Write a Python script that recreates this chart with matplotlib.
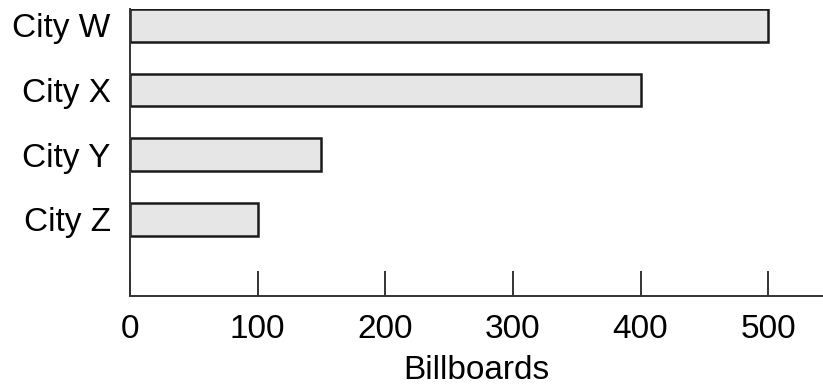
import matplotlib
matplotlib.use("Agg")
import matplotlib.pyplot as plt

cities = ["City W", "City X", "City Y", "City Z"]
billboards = [500, 400, 150, 100]
xticks = [0, 100, 200, 300, 400, 500]

plt.rcParams["font.family"] = ["Liberation Sans", "DejaVu Sans"]

fig = plt.figure(figsize=(8.23, 3.91), dpi=100)
ax = fig.add_axes([0.158, 0.243, 0.842, 0.734])

pos = list(range(len(cities)))
ax.barh(pos, billboards, height=0.51, color="#e6e6e6",
        edgecolor="#1a1a1a", linewidth=1.8)

ax.set_ylim(3 + 1.19, -0.254)
ax.set_xlim(0, 543)
ax.set_yticks(pos)
ax.set_yticklabels(cities, fontsize=24)
ax.set_xticks(xticks)
ax.set_xticklabels([str(t) for t in xticks], fontsize=24)
ax.tick_params(axis="y", length=0, pad=14)
ax.tick_params(axis="x", direction="in", length=18, width=1.4, color="#333333", pad=13)
ax.set_xlabel("Billboards", fontsize=24, labelpad=7)

for s in ["top", "right"]:
    ax.spines[s].set_visible(False)
for s in ["left", "bottom"]:
    ax.spines[s].set_linewidth(1.4)
    ax.spines[s].set_color("#333333")

fig.savefig("out.png", dpi=100)
